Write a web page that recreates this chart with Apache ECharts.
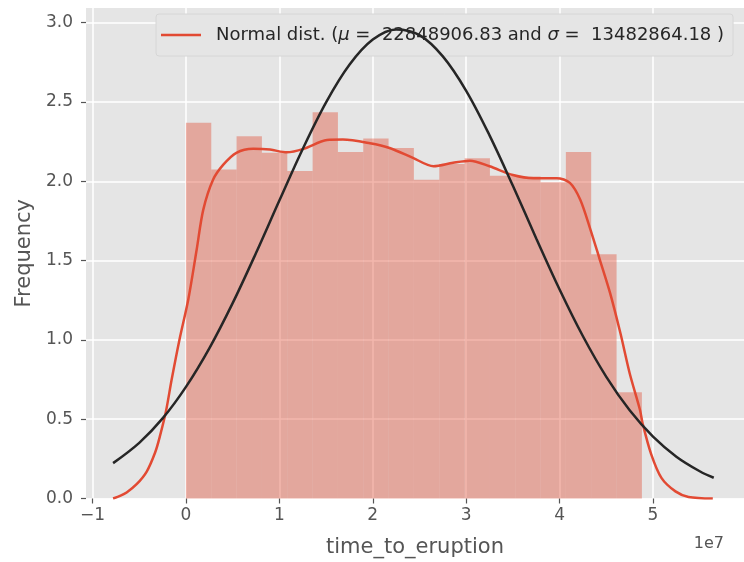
<!DOCTYPE html>
<html>
<head>
<meta charset="utf-8">
<script src="https://cdn.jsdelivr.net/npm/echarts@6/dist/echarts.min.js"></script>
<style>
  html, body { margin: 0; padding: 0; background: #fff; }
  #chart { width: 744px; height: 562px; }
</style>
</head>
<body>
<div id="chart"></div>
<script>
// values in units of 1e7 (x) and 1e-8 (y)
const xTicks = [-1, 0, 1, 2, 3, 4, 5];
const yTicks = [0, 0.5, 1, 1.5, 2, 2.5, 3];

const binEdges = [0, 0.271, 0.542, 0.813, 1.085, 1.356, 1.627, 1.898, 2.169, 2.44,
    2.712, 2.983, 3.254, 3.525, 3.796, 4.067, 4.338, 4.61, 4.881];
const binHeights = [2.37, 2.075, 2.285, 2.18, 2.065, 2.435, 2.185, 2.27, 2.21, 2.01,
    2.11, 2.145, 2.035, 2.03, 1.995, 2.185, 1.54, 0.67];

const kdeX = [-0.78, -0.7, -0.635, -0.528, -0.42, -0.33, -0.28, -0.214, -0.153, -0.07, 0.025,
    0.115, 0.185, 0.29, 0.40, 0.54, 0.72, 0.90, 1.08, 1.26, 1.51, 1.68, 1.97, 2.18, 2.43,
    2.65, 2.86, 3.04, 3.25, 3.50, 3.72, 3.97, 4.11, 4.22, 4.33, 4.43, 4.54, 4.65, 4.75,
    4.86, 4.89, 4.98, 5.09, 5.24, 5.38, 5.64];
const kdeY = [0.0, 0.018, 0.038, 0.09, 0.17, 0.29, 0.39, 0.55, 0.75, 1.0, 1.255,
    1.57, 1.82, 2.01, 2.105, 2.18, 2.205, 2.20, 2.183, 2.205, 2.26, 2.263, 2.24, 2.21, 2.148,
    2.095, 2.117, 2.13, 2.095, 2.04, 2.02, 2.02, 1.99, 1.885, 1.696, 1.507, 1.297, 1.045, 0.79,
    0.56, 0.47, 0.28, 0.13, 0.045, 0.01, 0.0];

const normX = [-0.78, -0.5, -0.25, 0, 0.25, 0.5, 0.75, 1.0, 1.25, 1.5, 1.75, 2.0, 2.25, 2.5,
    2.75, 3.0, 3.25, 3.5, 3.75, 4.0, 4.25, 4.5, 4.75, 5.0, 5.25, 5.5, 5.65];
const normY = [0.223, 0.351, 0.505, 0.704, 0.947, 1.232, 1.548, 1.879, 2.204, 2.498, 2.735,
    2.894, 2.958, 2.922, 2.788, 2.571, 2.290, 1.972, 1.640, 1.318, 1.023, 0.767, 0.556,
    0.390, 0.264, 0.172, 0.131];

const muText = '22848906.83';
const sigmaText = '13482864.18';
const legendName = 'Normal dist.';

const histData = binHeights.map((h, i) => [binEdges[i], binEdges[i + 1], h]);
const kdeData = kdeX.map((x, i) => [x, kdeY[i]]);
const normData = normX.map((x, i) => [x, normY[i]]);

var myChart = echarts.init(document.getElementById('chart'));
var option = {
    animation: false,
    textStyle: { fontFamily: 'DejaVu Sans' },
    grid: {
        left: 86, right: 0, top: 8, bottom: 63.5,
        outerBoundsMode: 'none', containLabel: false,
        show: true, backgroundColor: '#e5e5e5', borderWidth: 0
    },
    legend: {
        left: 156, top: 14,
        padding: [12, 9, 12, 5],
        backgroundColor: '#e5e5e5',
        borderColor: '#d6d6d6', borderWidth: 1, borderRadius: 3,
        icon: 'rect', itemWidth: 40, itemHeight: 2.5,
        data: [legendName],
        formatter: function () {
            return '{n|Normal dist. (}{i|μ}{n| =  ' + muText + ' and }{i|σ}{n| =  ' + sigmaText + ' )}';
        },
        textStyle: {
            padding: [0, 0, 0, 10],
            rich: {
                n: { fontSize: 18, color: '#262626', fontFamily: 'DejaVu Sans' },
                i: { fontSize: 18, color: '#262626', fontFamily: 'DejaVu Sans', fontStyle: 'italic' }
            }
        }
    },
    xAxis: {
        type: 'value', min: -1.07, max: 5.974,
        name: 'time_to_eruption', nameLocation: 'middle', nameGap: 39,
        nameTextStyle: { fontSize: 21, color: '#555555' },
        axisLine: { show: false, onZero: false },
        axisTick: { show: true, length: 5, lineStyle: { color: '#555555', width: 1.2 }, customValues: xTicks },
        axisLabel: {
            customValues: xTicks, margin: 9, fontSize: 17, color: '#555555',
            formatter: v => (v < 0 ? '\u2212' + Math.abs(v) : String(v))
        },
        splitLine: { show: true, lineStyle: { color: '#ffffff', width: 1.5 } }
    },
    yAxis: {
        type: 'value', min: 0, max: 3.093,
        name: 'Frequency', nameLocation: 'middle', nameGap: 51,
        nameTextStyle: { fontSize: 21, color: '#555555' },
        axisLine: { show: false, onZero: false },
        axisTick: { show: true, length: 5, lineStyle: { color: '#555555', width: 1.2 }, customValues: yTicks },
        axisLabel: {
            customValues: yTicks, margin: 13, fontSize: 17, color: '#555555',
            formatter: v => v.toFixed(1)
        },
        splitLine: { show: true, lineStyle: { color: '#ffffff', width: 1.5 } }
    },
    graphic: [{
        type: 'text', right: 20, top: 536,
        style: { text: '1e7', fontSize: 16, fill: '#555555', fontFamily: 'DejaVu Sans' }
    }],
    series: [
        {
            type: 'custom',
            name: 'hist',
            encode: { x: [0, 1], y: 2 },
            data: histData,
            renderItem: function (params, api) {
                const s = api.coord([api.value(0), 0]);
                const e = api.coord([api.value(1), api.value(2)]);
                return {
                    type: 'rect',
                    shape: { x: s[0], y: e[1], width: e[0] - s[0], height: s[1] - e[1] },
                    style: { fill: 'rgba(226,74,51,0.4)' }
                };
            },
            z: 1
        },
        {
            type: 'line', name: legendName, data: kdeData,
            showSymbol: false, symbol: 'none', smooth: 0.3,
            lineStyle: { color: '#e24a33', width: 2.5 },
            itemStyle: { color: '#e24a33' },
            z: 3
        },
        {
            type: 'line', name: 'norm', data: normData,
            showSymbol: false, symbol: 'none', smooth: 0.35,
            lineStyle: { color: '#262626', width: 2.5 },
            itemStyle: { color: '#262626' },
            z: 4
        }
    ]
};
myChart.setOption(option);
</script>
</body>
</html>
